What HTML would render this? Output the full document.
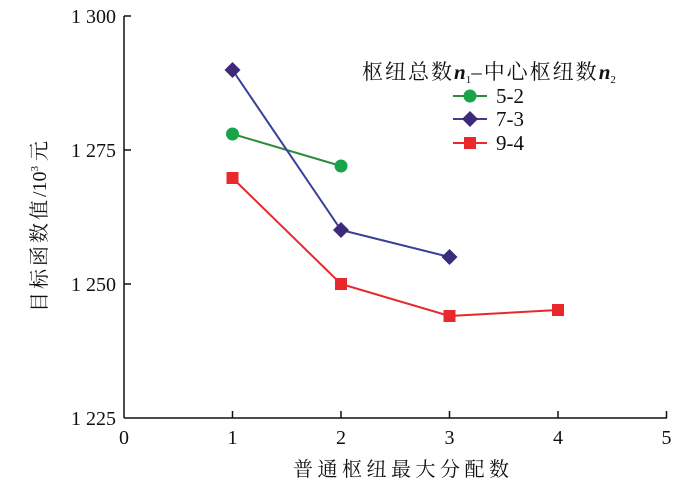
<!DOCTYPE html>
<html><head><meta charset="utf-8"><style>
html,body{margin:0;padding:0;background:#fff;}
svg text{font-family:"Liberation Serif","Noto Serif CJK SC","Noto Sans CJK SC",serif;fill:#111;}
</style></head><body>
<svg width="700" height="484" viewBox="0 0 700 484" xmlns="http://www.w3.org/2000/svg">
<g stroke="#111" stroke-width="1.5" fill="none">
<line x1="124" y1="16" x2="124" y2="418"/>
<line x1="124" y1="418" x2="667" y2="418"/>
<line x1="124" y1="16" x2="131" y2="16"/>
<line x1="124" y1="150" x2="131" y2="150"/>
<line x1="124" y1="284" x2="131" y2="284"/>
<line x1="232.5" y1="418" x2="232.5" y2="411"/>
<line x1="341" y1="418" x2="341" y2="411"/>
<line x1="449.5" y1="418" x2="449.5" y2="411"/>
<line x1="558" y1="418" x2="558" y2="411"/>
<line x1="666.5" y1="418" x2="666.5" y2="411"/>
</g>
<g font-size="20" text-anchor="end">
<text x="116" y="23">1 300</text>
<text x="116" y="157">1 275</text>
<text x="116" y="291">1 250</text>
<text x="116" y="425">1 225</text>
</g>
<g font-size="20" text-anchor="middle">
<text x="124" y="444">0</text>
<text x="232.5" y="444">1</text>
<text x="341" y="444">2</text>
<text x="449.5" y="444">3</text>
<text x="558" y="444">4</text>
<text x="666.5" y="444">5</text>
</g>
<text x="293" y="476" font-size="20" letter-spacing="4.5">普通枢纽最大分配数</text>
<text font-size="20" transform="translate(46,312) rotate(-90)"><tspan letter-spacing="3">目标函数值</tspan>/10<tspan font-size="11" dy="-8">3</tspan><tspan dy="8"> 元</tspan></text>
<polyline points="232.5,134 341,166" fill="none" stroke="#2e8b3a" stroke-width="2"/>
<circle cx="232.5" cy="134" r="6.5" fill="#1aa34a"/>
<circle cx="341" cy="166" r="6.5" fill="#1aa34a"/>
<polyline points="232.5,70 341,230 449.5,257" fill="none" stroke="#3a3f9a" stroke-width="2"/>
<g fill="#3d2a7a">
<polygon points="232.5,62 240.5,70 232.5,78 224.5,70"/>
<polygon points="341,222 349,230 341,238 333,230"/>
<polygon points="449.5,249 457.5,257 449.5,265 441.5,257"/>
</g>
<polyline points="232.5,178 341,284 449.5,316 558,310" fill="none" stroke="#e8282b" stroke-width="2"/>
<g fill="#e8282b">
<rect x="226.5" y="172" width="12" height="12"/>
<rect x="335" y="278" width="12" height="12"/>
<rect x="443.5" y="310" width="12" height="12"/>
<rect x="552" y="304" width="12" height="12"/>
</g>
<text x="362" y="79" font-size="21"><tspan letter-spacing="2">枢纽总数</tspan><tspan font-style="italic" font-weight="bold">n</tspan><tspan font-size="11" dy="4">1</tspan><tspan dy="-4" letter-spacing="2">–中心枢纽数</tspan><tspan font-style="italic" font-weight="bold">n</tspan><tspan font-size="11" dy="4">2</tspan></text>
<line x1="453" y1="96" x2="487" y2="96" stroke="#2e8b3a" stroke-width="2"/>
<circle cx="470" cy="96" r="6.5" fill="#1aa34a"/>
<line x1="453" y1="119" x2="487" y2="119" stroke="#3a3f9a" stroke-width="2"/>
<polygon points="470,111 478,119 470,127 462,119" fill="#3d2a7a"/>
<line x1="453" y1="143" x2="487" y2="143" stroke="#e8282b" stroke-width="2"/>
<rect x="464" y="137" width="12" height="12" fill="#e8282b"/>
<g font-size="21">
<text x="496" y="103">5-2</text>
<text x="496" y="126">7-3</text>
<text x="496" y="150">9-4</text>
</g>
</svg>
</body></html>
